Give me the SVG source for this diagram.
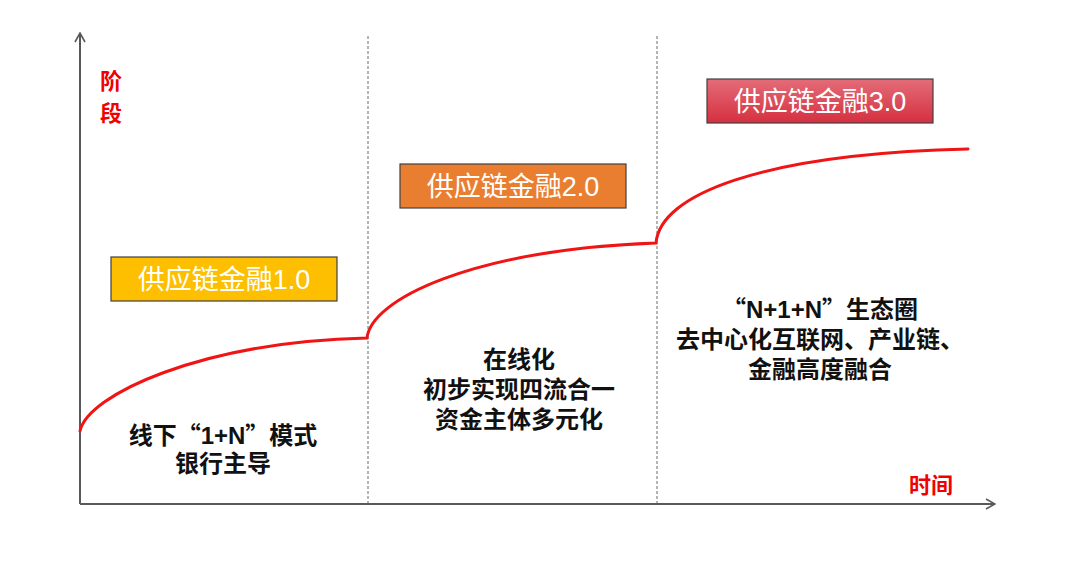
<svg xmlns="http://www.w3.org/2000/svg" width="1080" height="569" viewBox="0 0 1080 569">
  <defs>
    <linearGradient id="redGrad" x1="0" y1="0" x2="0" y2="1">
      <stop offset="0" stop-color="#E46C79"/>
      <stop offset="1" stop-color="#D5303F"/>
    </linearGradient>
    <marker id="chev" viewBox="0 0 12 12" refX="11" refY="6" markerWidth="12" markerHeight="12" markerUnits="userSpaceOnUse" orient="auto">
      <path d="M2,1 L11,6 L2,11" fill="none" stroke="#595959" stroke-width="1.6"/>
    </marker>
  </defs>
  <style>
    .axis { stroke: #595959; stroke-width: 2; fill: none; }
    .divider { stroke: #6b6b6b; stroke-width: 1; stroke-dasharray: 3 2; fill: none; }
    .curve { stroke: #F01414; stroke-width: 3; fill: none; stroke-linecap: round; }
    .box { stroke: #404040; stroke-width: 1.2; }
    .boxText { font-family: "Liberation Sans", "Noto Sans CJK SC", sans-serif; font-size: 27px; fill: #FFFFFF; text-anchor: middle; }
    .body { font-family: "Liberation Sans", "Noto Sans CJK SC", sans-serif; font-size: 24px; font-weight: bold; fill: #111111; text-anchor: middle; }
    .q { font-family: "Noto Sans CJK SC", sans-serif; }
    .axisLabel { font-family: "Noto Sans CJK SC", sans-serif; font-size: 22px; font-weight: bold; fill: #F00000; }
  </style>
  <rect width="1080" height="569" fill="#FFFFFF"/>

  <g id="connectors">
    <line class="axis" x1="80" y1="504" x2="80" y2="33" marker-end="url(#chev)"/>
    <line class="axis" x1="80" y1="504" x2="995" y2="504" marker-end="url(#chev)"/>
    <line class="divider" x1="368" y1="36" x2="368" y2="503"/>
    <line class="divider" x1="657" y1="36" x2="657" y2="503"/>
    <path class="curve" d="M80,431 C88,395 200,342 367,338 C371,300 470,250 656,243 C660,195 760,154 968,149"/>
  </g>

  <g id="axis-y-label">
    <text class="axisLabel" x="111" y="89" text-anchor="middle">阶</text>
    <text class="axisLabel" x="111" y="121" text-anchor="middle">段</text>
  </g>
  <g id="axis-x-label">
    <text class="axisLabel" x="931" y="493" text-anchor="middle">时间</text>
  </g>

  <g id="stage1">
    <rect class="box" x="111" y="257" width="226" height="44" fill="#FDBF00"/>
    <text class="boxText" x="224" y="289">供应链金融1.0</text>
  </g>
  <g id="stage2">
    <rect class="box" x="400" y="164" width="226" height="44" fill="#EA7E30"/>
    <text class="boxText" x="513" y="196">供应链金融2.0</text>
  </g>
  <g id="stage3">
    <rect class="box" x="707" y="79" width="226" height="44" fill="url(#redGrad)"/>
    <text class="boxText" x="820" y="111">供应链金融3.0</text>
  </g>

  <g id="desc1">
    <text class="body" x="223" y="444" xml:lang="zh-CN">线下<tspan class="q">“</tspan>1+N<tspan class="q">”</tspan>模式</text>
    <text class="body" x="223" y="472">银行主导</text>
  </g>
  <g id="desc2">
    <text class="body" x="519" y="368">在线化</text>
    <text class="body" x="519" y="398">初步实现四流合一</text>
    <text class="body" x="519" y="428">资金主体多元化</text>
  </g>
  <g id="desc3">
    <text class="body" x="820" y="318" xml:lang="zh-CN"><tspan class="q">“</tspan>N+1+N<tspan class="q">”</tspan>生态圈</text>
    <text class="body" x="820" y="348">去中心化互联网、产业链、</text>
    <text class="body" x="820" y="378">金融高度融合</text>
  </g>
</svg>
